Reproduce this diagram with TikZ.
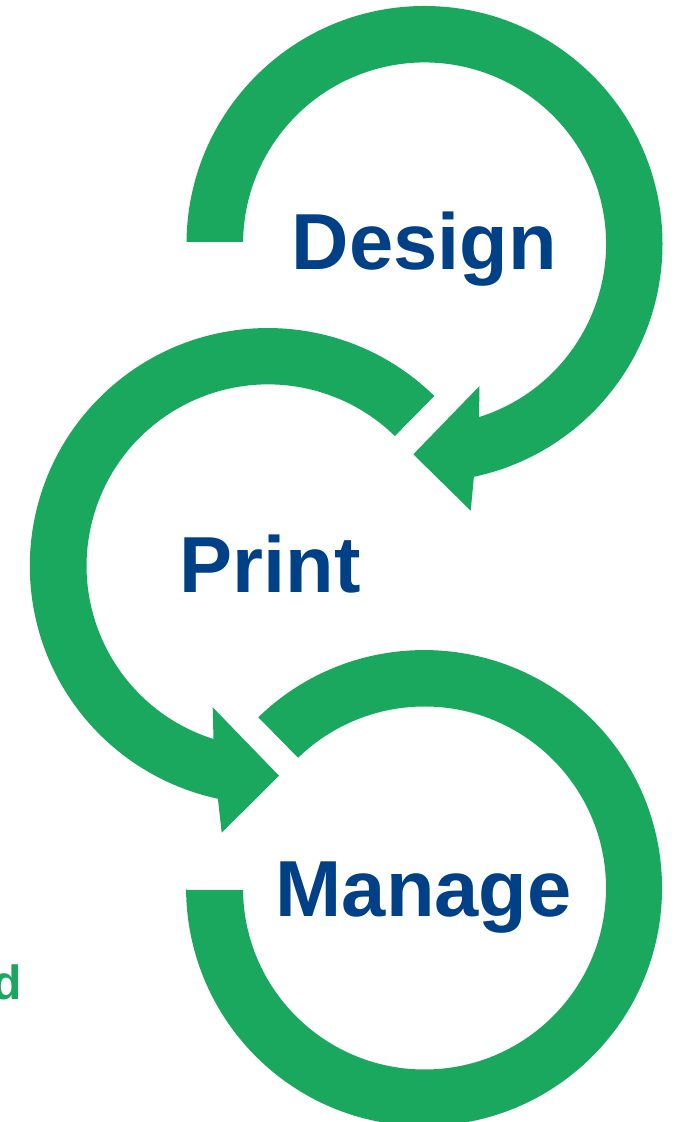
\documentclass[tikz,border=0pt]{standalone}
\usepackage{fontspec}
\setmainfont{Liberation Sans}
\definecolor{ringgreen}{HTML}{1AA85E}
\definecolor{wordblue}{HTML}{004086}
\tikzset{
  ring/.style={fill=ringgreen,draw=none},
  word/.style={font=\fontsize{79.5}{80}\selectfont\bfseries,text=wordblue,inner sep=0pt,anchor=base west},
  x=1pt,y=1pt
}
% pixel coordinates with origin at the top left
\newcommand{\px}[2]{(#1,{1122-(#2)})}
\begin{document}
\begin{tikzpicture}
\useasboundingbox (0,0) rectangle (677,1122);
\clip (0,0) rectangle (677,1122);
% Design ring
\path[ring] \px{186.5}{242} -- \px{186.5}{244} arc[start angle=180,end angle=-78.02,radius=238]
  -- \px{470.7}{510.7} -- \px{413.3}{454.3} -- \px{479.5}{386} -- \px{479}{417.1}
  arc[start angle=-72.54,end angle=180,radius=181.5] -- \px{243}{242} -- cycle;
% Print ring
\path[ring] \px{434.3}{396} arc[start angle=45.6,end angle=257.9,radius=238]
  -- \px{221.7}{832.7} -- \px{279}{775.7} -- \px{212.7}{707.3} -- \px{213.5}{739}
  arc[start angle=252.5,end angle=45.7,radius=181.5] -- cycle;
% Manage ring
\path[ring] \px{258.3}{717.3} arc[start angle=134.15,end angle=-180,radius=238]
  -- \px{186.5}{890} -- \px{243}{890} -- \px{243}{888}
  arc[start angle=-180,end angle=134.15,radius=181.5] -- cycle;
% Labels
\node[word] (design) at \px{291.5}{270} {Design};
\node[word] (print) at \px{179.5}{593} {Print};
\node[word] (manage) at \px{275.5}{917} {Manage};
\node[font=\fontsize{48}{48}\selectfont\bfseries,text=ringgreen,inner sep=0pt,anchor=base east] (clipped) at \px{22}{1000} {d};
\end{tikzpicture}
\end{document}
